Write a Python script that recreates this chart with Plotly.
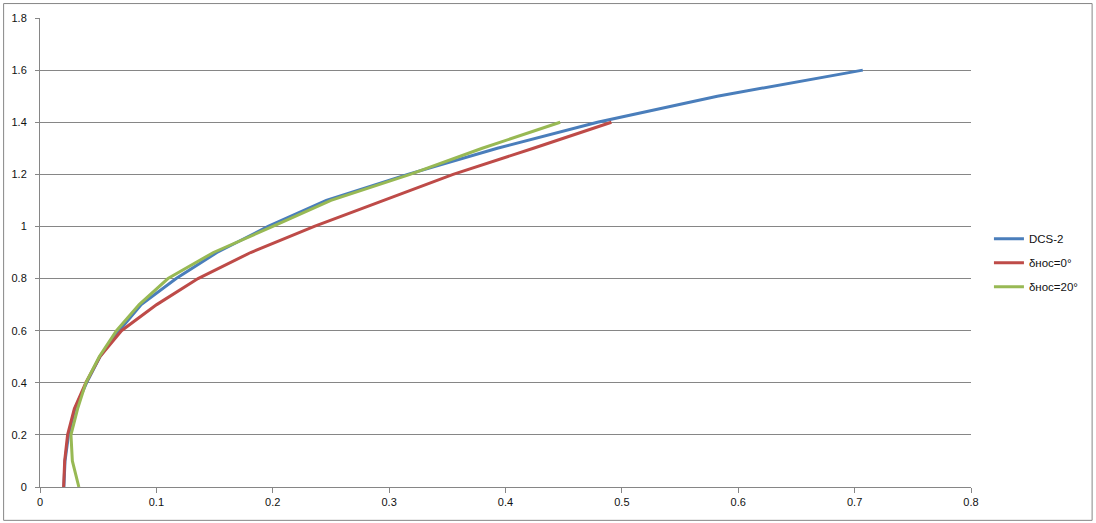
import plotly.graph_objects as go

# data
y_levels = [0.0, 0.1, 0.2, 0.3, 0.4, 0.5, 0.6, 0.7, 0.8, 0.9, 1.0, 1.1, 1.2, 1.3, 1.4, 1.5, 1.6]
dcs2_x = [0.0205, 0.0215, 0.0245, 0.030, 0.0400, 0.0515, 0.0680, 0.0870, 0.1170, 0.1520, 0.1960, 0.2460, 0.3160, 0.3930, 0.4790, 0.5820, 0.7070]
dnos0_y = [0.0, 0.1, 0.2, 0.3, 0.4, 0.5, 0.6, 0.7, 0.8, 0.9, 1.0, 1.1, 1.2, 1.3, 1.4]
dnos0_x = [0.0203, 0.0212, 0.0237, 0.0295, 0.0394, 0.0514, 0.0700, 0.1003, 0.1358, 0.1810, 0.2357, 0.2950, 0.3550, 0.4240, 0.4910]
dnos20_y = [0.0, 0.1, 0.2, 0.3, 0.4, 0.5, 0.6, 0.7, 0.8, 0.9, 1.0, 1.1, 1.2, 1.3, 1.4]
dnos20_x = [0.0334, 0.0278, 0.0266, 0.0323, 0.0394, 0.0509, 0.0657, 0.0852, 0.1100, 0.1490, 0.2000, 0.2500, 0.3180, 0.3800, 0.4470]

names = ["DCS-2", "δнос=0°", "δнос=20°"]
colors = ["#4A7EBB", "#BE4B48", "#98B954"]

fig = go.Figure()
for i, (xs, ys) in enumerate([(dcs2_x, y_levels), (dnos0_x, dnos0_y), (dnos20_x, dnos20_y)]):
    fig.add_trace(go.Scatter(x=xs, y=ys, mode="lines", name=names[i],
                             line=dict(color=colors[i], width=3),
                             legendgroup=f"g{i}"))

W, H = 1096, 523
ml, mr, mt, mb = 38, 124, 16, 36
pw = W - ml - mr
ph = H - mt - mb

font = dict(family="Liberation Sans, Arial, sans-serif", size=11, color="#111111")
fig.update_layout(
    width=W, height=H,
    margin=dict(l=ml, r=mr, t=mt, b=mb),
    paper_bgcolor="white", plot_bgcolor="white",
    font=font,
    showlegend=True,
    legend=dict(x=(990 - ml) / pw, y=(487.3 - 262) / ph, xanchor="left", yanchor="middle",
                bgcolor="rgba(0,0,0,0)", tracegroupgap=5,
                font=dict(family=font["family"], size=11.5, color="#111111")),
    xaxis=dict(range=[0, 0.8], dtick=0.1, tick0=0, showgrid=False, zeroline=False,
               showline=True, linecolor="#868686", linewidth=1,
               ticks="outside", ticklen=5, tickcolor="#868686", fixedrange=True),
    yaxis=dict(range=[0, 1.8], dtick=0.2, tick0=0, showgrid=True, gridcolor="#868686", gridwidth=1,
               zeroline=False, showline=True, linecolor="#868686", linewidth=1,
               ticks="outside", ticklen=4, tickcolor="#868686", ticklabelstandoff=6, fixedrange=True),
)

# outer chart border
fig.add_shape(type="rect", xref="paper", yref="paper",
              x0=(1.5 - ml) / pw, x1=(1093.5 - ml) / pw,
              y0=(H - mb - 520.5) / ph, y1=(H - mb - 1.5) / ph,
              line=dict(color="#868686", width=1), fillcolor="rgba(0,0,0,0)", layer="below")

fig.write_html("out.html", config={"displayModeBar": False},
               post_script="document.body.style.margin='0';document.body.style.overflow='hidden';")
